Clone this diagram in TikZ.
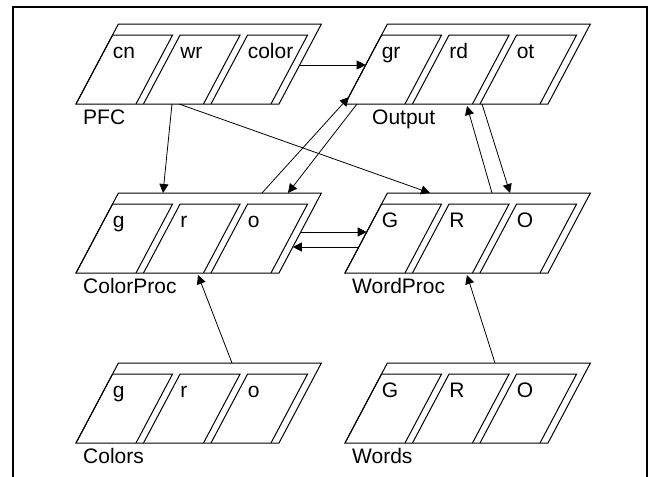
\documentclass[tikz,border=0pt]{standalone}
\usepackage{fontspec}
\setmainfont{Liberation Sans}
\usetikzlibrary{arrows.meta}

\newcommand{\pmodule}[8]{%
  \begin{scope}[shift={(#2,#3)}]
    \draw[box] (0,0) -- (203,0) -- (245.4,-80) -- (42.4,-80) -- cycle;
    \foreach \i/\t in {0/#4,1/#5,2/#6} {
      \draw[box] ({67.5*\i},0) -- ++(36.6,-69) -- ++(60,0) -- ++(-36.6,69);
      \node[txt] (#1-\i) at ({67.5*\i+36.6},-46) {\t};
    }
    \node[txt] (#1-lbl) at (#8,20) {#7};
  \end{scope}}

\begin{document}
\begin{tikzpicture}[x=1pt,y=-1pt,
  box/.style={line width=1pt},
  txt/.style={anchor=base west,inner sep=0pt,font=\fontsize{21}{24}\selectfont},
  arr/.style={line width=0.8pt,-{Triangle[length=9pt,width=9pt]}}]
  \useasboundingbox (0,0) rectangle (649,477);
  \draw[line width=2pt] (13,477) |- (647,7) -- (647,477);

  \pmodule{pfc}{76}{104}{cn}{wr}{color}{PFC}{7}
  \pmodule{out}{345}{104}{gr}{rd}{ot}{Output}{27}
  \pmodule{cp}{76}{273}{g}{r}{o}{ColorProc}{7}
  \pmodule{wp}{345}{273}{G}{R}{O}{WordProc}{7}
  \pmodule{col}{76}{443}{g}{r}{o}{Colors}{7}
  \pmodule{wrd}{345}{443}{G}{R}{O}{Words}{7}

  \coordinate (pfc-r) at (299.7,65);
  \coordinate (out-l) at (365.7,65);
  \coordinate (pfc-b1) at (172,104);
  \coordinate (cp-t1) at (163,193);
  \coordinate (pfc-b2) at (179,104);
  \coordinate (wp-t1) at (430,193);
  \coordinate (cp-t2) at (262,193);
  \coordinate (out-l2) at (349,97);
  \coordinate (out-b1) at (357,104);
  \coordinate (cp-t3) at (288,193);
  \coordinate (cp-r1) at (300.7,232);
  \coordinate (wp-l1) at (366.7,232);
  \coordinate (wp-l2) at (358.8,247);
  \coordinate (cp-r2) at (292.8,247);
  \coordinate (wp-t2) at (492,193);
  \coordinate (out-b2) at (467,106);
  \coordinate (out-b3) at (482,104);
  \coordinate (wp-t3) at (510,193);
  \coordinate (col-t) at (232,363);
  \coordinate (cp-b) at (198,275);
  \coordinate (wrd-t) at (495,363);
  \coordinate (wp-b) at (467,275);

  \draw[arr] (pfc-r) -- (out-l);
  \draw[arr] (pfc-b1) -- (cp-t1);
  \draw[arr] (pfc-b2) -- (wp-t1);
  \draw[arr] (cp-t2) -- (out-l2);
  \draw[arr] (out-b1) -- (cp-t3);
  \draw[arr] (cp-r1) -- (wp-l1);
  \draw[arr] (wp-l2) -- (cp-r2);
  \draw[arr] (wp-t2) -- (out-b2);
  \draw[arr] (out-b3) -- (wp-t3);
  \draw[arr] (col-t) -- (cp-b);
  \draw[arr] (wrd-t) -- (wp-b);
\end{tikzpicture}
\end{document}
